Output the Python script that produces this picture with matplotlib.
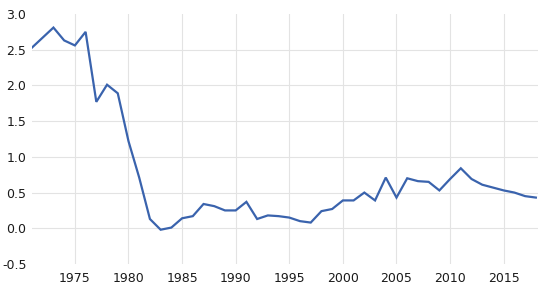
import matplotlib
matplotlib.use("Agg")
import matplotlib.pyplot as plt

years = list(range(1971, 2019))
values = [2.53, 2.67, 2.81, 2.63, 2.56, 2.75, 1.77, 2.01, 1.89, 1.22,
          0.71, 0.13, -0.02, 0.01, 0.14, 0.17, 0.34, 0.31, 0.25, 0.25,
          0.37, 0.13, 0.18, 0.17, 0.15, 0.10, 0.08, 0.24, 0.27, 0.39,
          0.39, 0.50, 0.39, 0.71, 0.43, 0.70, 0.66, 0.65, 0.53, 0.69,
          0.84, 0.69, 0.61, 0.57, 0.53, 0.50, 0.45, 0.43]
xticks = [1975, 1980, 1985, 1990, 1995, 2000, 2005, 2010, 2015]
yticks = [-0.5, 0.0, 0.5, 1.0, 1.5, 2.0, 2.5, 3.0]

fig = plt.figure(figsize=(5.4, 2.86), dpi=100)
ax = fig.add_axes([32/540, 22/286, 506/540, 250/286])

# horizontal grid only inside the limits (none at -0.5 or 3.0)
for v in yticks[1:-1]:
    ax.axhline(v, color="#e3e3e3", lw=0.8, zorder=0)
ax.grid(True, axis="x", color="#e3e3e3", lw=0.8)
ax.set_axisbelow(True)

ax.plot(years, values, color="#3a63ad", lw=1.6, solid_joinstyle="miter")

ax.set_xlim(1971, 2018.2)
ax.set_ylim(-0.5, 3.0)
ax.set_xticks(xticks)
ax.set_yticks(yticks)
ax.set_yticklabels([f"{v:.1f}" for v in yticks])
for s in ax.spines.values():
    s.set_visible(False)
ax.tick_params(length=0, labelsize=9, colors="#1a1a1a", pad=4)
ax.tick_params(axis="x", pad=6)

fig.savefig("out.png", dpi=100)
